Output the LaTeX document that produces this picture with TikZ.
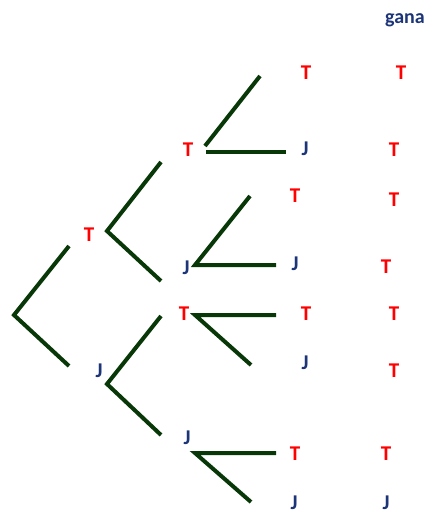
\documentclass[tikz,border=0pt]{standalone}
\usepackage{fontspec}
\setmainfont{Carlito}
\definecolor{lineg}{RGB}{8,56,8}
\definecolor{jblue}{RGB}{28,52,120}
\definecolor{tred}{RGB}{255,0,0}
\begin{document}
\begin{tikzpicture}[x=1pt,y=-1pt,
  branch/.style={draw=lineg,line width=4pt},
  lbl/.style={font=\bfseries\fontsize{21}{21}\selectfont,inner sep=0pt},
  tl/.style={lbl,text=tred},
  jl/.style={lbl,text=jblue}]
\useasboundingbox (0,0) rectangle (436,515);
% level 1
\coordinate (r) at (14,315);
\coordinate (r1) at (69,246);
\coordinate (r2) at (69,366);
\draw[branch] (r1) -- (r) -- (r2);
\node[tl] (a1) at (89,235) {T};
\node[jl] (a2) at (99,371) {J};
% level 2
\coordinate (u) at (107,231);
\coordinate (u1) at (161,162);
\coordinate (u2) at (161,281);
\draw[branch] (u1) -- (u) -- (u2);
\coordinate (d) at (107,384);
\coordinate (d1) at (161,316);
\coordinate (d2) at (161,435);
\draw[branch] (d1) -- (d) -- (d2);
\node[tl] (b1) at (188,150) {T};
\node[jl] (b2) at (186,268) {J};
\node[tl] (b3) at (184,314) {T};
\node[jl] (b4) at (187,438) {J};
% level 3
\coordinate (g1) at (205,146);
\coordinate (g1a) at (260,76);
\coordinate (g1s) at (206,152);
\coordinate (g1b) at (286,152);
\draw[branch] (g1a) -- (g1);
\draw[branch] (g1s) -- (g1b);
\coordinate (g2) at (195,265);
\coordinate (g2a) at (250,196);
\coordinate (g2b) at (276,265);
\draw[branch] (g2a) -- (g2) -- (g2b);
\coordinate (g3) at (195,315);
\coordinate (g3a) at (276,315);
\coordinate (g3b) at (251,365);
\draw[branch] (g3a) -- (g3) -- (g3b);
\coordinate (g4) at (195,453);
\coordinate (g4a) at (276,453);
\coordinate (g4b) at (251,502);
\draw[branch] (g4a) -- (g4) -- (g4b);
% leaves
\node[tl] (c1) at (306,73) {T};
\node[jl] (c2) at (305,149) {J};
\node[tl] (c3) at (295,196) {T};
\node[jl] (c4) at (295,264) {J};
\node[tl] (c5) at (306,314) {T};
\node[jl] (c6) at (305,363) {J};
\node[tl] (c7) at (295,454) {T};
\node[jl] (c8) at (294,503) {J};
% gana column
\node[lbl,text=jblue,font=\bfseries\fontsize{20}{20}\selectfont] (g) at (405,20) {gana};
\node[tl] (e1) at (401,73) {T};
\node[tl] (e2) at (394,150) {T};
\node[tl] (e3) at (394,200) {T};
\node[tl] (e4) at (386,267) {T};
\node[tl] (e5) at (394,314) {T};
\node[tl] (e6) at (394,371) {T};
\node[tl] (e7) at (386,454) {T};
\node[jl] (e8) at (386,503) {J};
\end{tikzpicture}
\end{document}
